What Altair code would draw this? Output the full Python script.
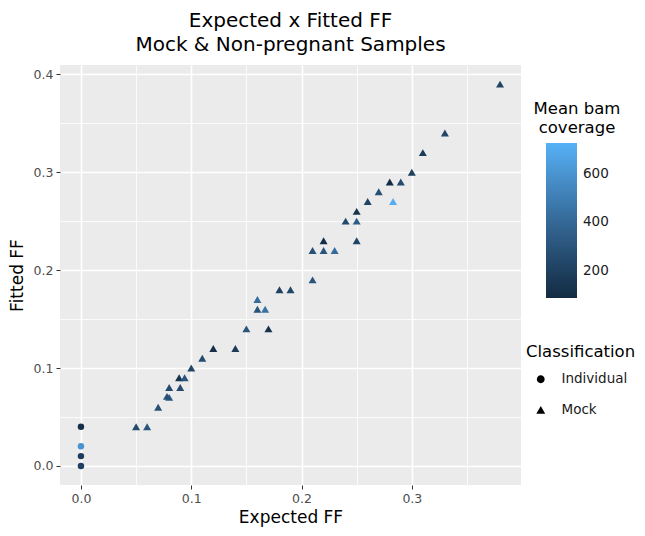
import altair as alt
import pandas as pd

# ---- data ----
expected = [0.0, 0.0, 0.0, 0.0,
            0.05, 0.06, 0.07, 0.08, 0.078, 0.08, 0.09, 0.089, 0.094, 0.10,
            0.11, 0.12, 0.14, 0.15, 0.17, 0.16, 0.167, 0.16, 0.18, 0.19,
            0.21, 0.21, 0.22, 0.23, 0.22, 0.24, 0.25, 0.25, 0.25, 0.26,
            0.27, 0.28, 0.29, 0.283, 0.30, 0.31, 0.33, 0.38]
fitted = [0.04, 0.02, 0.01, 0.0,
          0.04, 0.04, 0.06, 0.07, 0.071, 0.08, 0.08, 0.09, 0.09, 0.10,
          0.11, 0.12, 0.12, 0.14, 0.14, 0.16, 0.16, 0.17, 0.18, 0.18,
          0.19, 0.22, 0.22, 0.22, 0.23, 0.25, 0.25, 0.23, 0.26, 0.27,
          0.28, 0.29, 0.29, 0.27, 0.30, 0.32, 0.34, 0.39]
coverage = [110, 600, 180, 200,
            250, 300, 280, 330, 280, 250, 250, 130, 300, 230,
            250, 110, 170, 300, 120, 300, 450, 420, 200, 230,
            300, 280, 300, 420, 100, 250, 350, 220, 130, 220,
            280, 90, 250, 710, 200, 180, 230, 220]
classification = ["Individual"] * 4 + ["Mock"] * 38

x_ticks = [0.0, 0.05, 0.1, 0.15, 0.2, 0.25, 0.3, 0.35]
y_ticks = [0.0, 0.05, 0.1, 0.15, 0.2, 0.25, 0.3, 0.35, 0.4]
color_ticks = [200, 400, 600]
color_limits = [86, 729]

df = pd.DataFrame({
    "Expected FF": expected,
    "Fitted FF": fitted,
    "Mean bam coverage": coverage,
    "Classification": classification,
})

FONT = "DejaVu Sans"
minor_test = "round(datum.value*20) % 2 == 1"
label_expr = "round(datum.value*20) % 2 == 1 ? '' : format(datum.value, '.1f')"


def make_axis(values, title, pad):
    return alt.Axis(
        values=values,
        labelExpr=label_expr,
        title=title,
        titleFont=FONT,
        titleFontSize=17,
        titleFontWeight="normal",
        titleColor="black",
        titlePadding=pad,
        labelFont=FONT,
        labelFontSize=12.5,
        labelColor="#4D4D4D",
        labelPadding=3,
        domain=False,
        grid=True,
        gridColor="white",
        gridWidth={"condition": {"test": minor_test, "value": 0.8}, "value": 1.6},
        ticks=True,
        tickColor="#333333",
        tickSize=4,
        tickWidth=1,
        tickOpacity={"condition": {"test": minor_test, "value": 0}, "value": 1},
    )


chart = alt.Chart(df).mark_point(filled=True, opacity=1).encode(
    x=alt.X("Expected FF:Q",
            scale=alt.Scale(domain=[-0.019, 0.399], nice=False, zero=False),
            axis=make_axis(x_ticks, "Expected FF", 5)),
    y=alt.Y("Fitted FF:Q",
            scale=alt.Scale(domain=[-0.0195, 0.4095], nice=False, zero=False),
            axis=make_axis(y_ticks, "Fitted FF", 7)),
    size=alt.condition("datum.Classification == 'Mock'", alt.value(64), alt.value(42)),
    color=alt.Color("Mean bam coverage:Q",
                    scale=alt.Scale(domain=color_limits, range=["#132B43", "#56B1F7"],
                                    zero=False, nice=False),
                    legend=alt.Legend(
                        title=["Mean bam", "coverage"],
                        orient="none", legendX=474, legendY=36,
                        values=color_ticks,
                        gradientLength=155, gradientThickness=31,
                        gradientStrokeWidth=0,
                        direction="vertical",
                        titleFont=FONT, titleFontSize=16.5, titleFontWeight="normal",
                        titleColor="black", titleAnchor="middle", titleAlign="center",
                        titleLineHeight=18.5, titlePadding=7,
                        labelFont=FONT, labelFontSize=13.5, labelColor="#1A1A1A",
                        labelOffset=6, padding=0)),
    shape=alt.Shape("Classification:N",
                    scale=alt.Scale(domain=["Individual", "Mock"], range=["circle", "triangle-up"]),
                    legend=alt.Legend(
                        title="Classification",
                        orient="none", legendX=466, legendY=279,
                        symbolFillColor="black", symbolStrokeColor="black",
                        symbolSize=40, symbolOffset=8, labelOffset=14,
                        rowPadding=16,
                        titleFont=FONT, titleFontSize=16.5, titleFontWeight="normal",
                        titleColor="black", titlePadding=12,
                        labelFont=FONT, labelFontSize=13.5, labelColor="#1A1A1A",
                        padding=0)),
).properties(
    width=461,
    height=420,
    title=alt.TitleParams(
        text=["Expected x Fitted FF", "Mock & Non-pregnant Samples"],
        font=FONT, fontSize=20, fontWeight="normal", color="black",
        anchor="middle", offset=10, lineHeight=24),
    autosize=alt.AutoSizeParams(type="none"),
    padding={"left": 52, "top": 57, "right": 116, "bottom": 43},
    background="white",
).configure_view(
    fill="#EBEBEB", stroke=None
)

chart.save("out.html", embed_options={"renderer": "svg", "actions": False})
